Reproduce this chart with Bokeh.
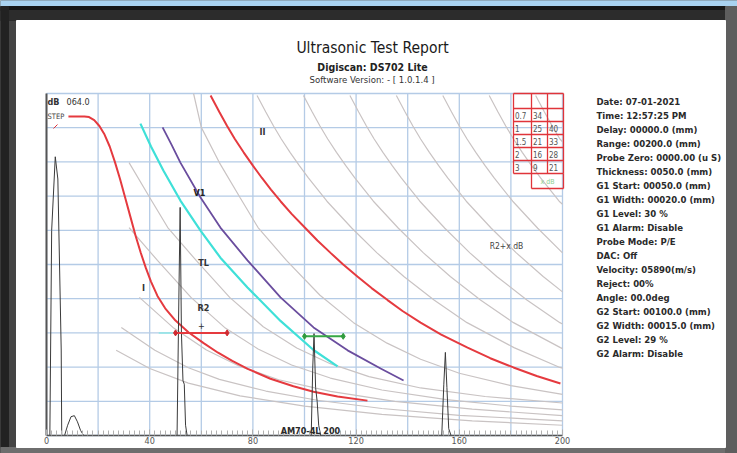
from bokeh.plotting import figure
from bokeh.models import Range1d, LinearAxis, FixedTicker, Label
from bokeh.embed import file_html
from bokeh.resources import INLINE

# ---------------- data (chart units: x = depth 0..200 mm, y = amplitude 0..100 %) ----------------
x_ticks = [0, 40, 80, 120, 160, 200]
x_minor = list(range(0, 201, 2))
grid_x = [0, 20, 40, 60, 80, 100, 120, 140, 160, 180, 200]
grid_y = [0, 10, 20, 30, 40, 50, 60, 70, 80, 90, 100]

curve_I_x = [8.5, 14.7, 16.5, 18.5, 20.5, 22.5, 24.5, 26.5, 28.5, 30.5, 32.5, 34.5, 36.5, 38.5, 40.5,
             43.0, 46.0, 50.0, 55.0, 60.9, 66.5, 72.0, 78.0, 86.8, 95.7, 103.5, 112.8, 124.4]
curve_I_y = [93.3, 93.3, 93.1, 92.2, 90.5, 88.0, 84.5, 80.0, 75.0, 69.5, 64.0, 58.5, 53.5, 49.0, 45.0,
             40.8, 37.2, 33.6, 30.2, 27.0, 24.2, 21.8, 19.5, 16.6, 14.4, 12.8, 11.4, 10.2]

curve_II_x = [63.6, 67.0, 70.0, 73.0, 76.4, 80.0, 83.5, 87.0, 90.7, 95.0, 100.4, 105.0, 110.1, 115.0,
              120.5, 126.0, 132.2, 138.0, 145.0, 153.0, 163.2, 172.0, 181.0, 190.0, 199.2]
curve_II_y = [99.4, 94.6, 90.5, 86.7, 82.8, 78.9, 75.3, 71.9, 68.5, 64.8, 60.6, 57.0, 53.4, 50.0,
              46.5, 43.1, 39.6, 36.4, 33.0, 29.5, 25.7, 22.6, 19.9, 17.4, 15.2]

curve_TL_x = [36.4, 40.5, 45.3, 51.9, 59.7, 67.4, 77.9, 90.7, 103.5, 112.8]
curve_TL_y = [91.2, 84.5, 77.5, 68.7, 59.9, 52.0, 43.3, 33.5, 25.0, 20.2]

curve_V1_x = [45.0, 48.5, 51.9, 59.7, 67.4, 77.9, 90.7, 103.5, 116.7, 129.5, 138.4]
curve_V1_y = [90.1, 85.0, 79.8, 69.6, 60.8, 51.2, 40.4, 31.6, 24.9, 19.6, 16.1]

gray_curves_x = [
    [27, 40, 55, 75, 100, 130, 165, 200],
    [29, 42, 55, 67, 85, 105, 130, 160, 200],
    [36, 49, 62, 75, 90, 110, 135, 165, 200],
    [32, 43, 56, 69, 82, 95, 110, 130, 155, 180, 200],
    [32, 40, 47, 58, 71, 84, 97, 110, 125, 145, 170, 200],
    [57, 60, 67, 75, 82, 93, 106, 119, 132, 145, 160, 180, 200],
    [81.6, 85, 88, 91, 94.4, 98, 101.5, 108.7, 118.4, 128.1, 138.5, 150.2, 163, 181.2, 199, 200],
    [99.6, 103, 106, 109, 112.4, 116, 119.5, 126.7, 136.4, 146.1, 156.5, 168.2, 181, 199.2, 200],
    [117.6, 121, 124, 127, 130.4, 134, 137.5, 144.7, 154.4, 164.1, 174.5, 186.2, 199, 200],
    [135.6, 139, 142, 145, 148.4, 152, 155.5, 162.7, 172.4, 182.1, 192.5, 200],
    [153.6, 157, 160, 163, 166.4, 170, 173.5, 180.7, 190.4, 200],
    [171.6, 175, 178, 181, 184.4, 188, 191.5, 198.7, 200],
    [189.6, 193, 196, 199, 200],
]
gray_curves_y = [
    [24.9, 19.6, 15.3, 11.6, 8.6, 6.2, 4.3, 3.0],
    [31.6, 24.9, 19.8, 16.4, 13.0, 10.3, 7.9, 5.9, 4.3],
    [40.4, 31.6, 25.0, 20.2, 16.3, 12.9, 10.0, 7.7, 5.8],
    [60.8, 51.2, 40.4, 31.6, 25.3, 20.6, 16.8, 13.3, 10.5, 8.6, 7.5],
    [79.8, 69.6, 60.8, 51.2, 40.4, 31.8, 25.6, 21.0, 17.2, 13.9, 11.4, 9.5],
    [100, 90.1, 79.8, 69.6, 60.8, 51.2, 41.0, 33.0, 27.0, 22.3, 18.2, 14.6, 12.0],
    [99.4, 94.6, 90.5, 86.7, 82.8, 78.9, 75.3, 68.5, 60.6, 53.4, 46.5, 39.6, 33.0, 25.7, 19.9, 19.7],
    [99.4, 94.6, 90.5, 86.7, 82.8, 78.9, 75.3, 68.5, 60.6, 53.4, 46.5, 39.6, 33.0, 25.7, 25.4],
    [99.4, 94.6, 90.5, 86.7, 82.8, 78.9, 75.3, 68.5, 60.6, 53.4, 46.5, 39.6, 33.0, 32.6],
    [99.4, 94.6, 90.5, 86.7, 82.8, 78.9, 75.3, 68.5, 60.6, 53.4, 46.5, 42.0],
    [99.4, 94.6, 90.5, 86.7, 82.8, 78.9, 75.3, 68.5, 60.6, 53.4],
    [99.4, 94.6, 90.5, 86.7, 82.8, 78.9, 75.3, 68.5, 67.6],
    [99.4, 94.6, 90.5, 86.7, 85.9],
]

ascan_x = [0, 1.3, 2.0, 3.4, 4.4, 5.7, 5.9, 7.0, 8.2, 9.5, 10.8, 12.0, 13.2, 14.4, 15.5,
           50.6, 51.3, 51.8, 52.3, 52.9, 53.4, 53.9, 54.5,
           102.6, 103.2, 103.7, 104.3, 104.9, 105.5, 106.3,
           153.2, 154.0, 154.6, 155.2, 155.9, 156.8, 200]
ascan_y = [0, 0, 60, 81.5, 75, 25, 0, 0, 3, 5.5, 5.8, 4, 1.5, 0, 0,
           0, 40, 66.7, 30, 16, 15, 3, 0,
           0, 20, 29.8, 14, 10, 3, 0,
           0, 15, 24.3, 14, 2, 0, 0]

g1_start, g1_width, g1_level = 50, 20, 30
g2_start, g2_width, g2_level = 100, 15, 29

table_rows = [["0.7", "34", ""], ["1", "25", "40"], ["1.5", "21", "33"], ["2", "16", "28"], ["3", "9", "21"]]

params = ["Date: 07-01-2021", "Time: 12:57:25 PM", "Delay: 00000.0 (mm)", "Range: 00200.0 (mm)",
          "Probe Zero: 0000.00 (u S)", "Thickness: 0050.0 (mm)", "G1 Start: 00050.0 (mm)",
          "G1 Width: 00020.0 (mm)", "G1 Level: 30 %", "G1 Alarm: Disable", "Probe Mode: P/E",
          "DAC: Off", "Velocity: 05890(m/s)", "Reject: 00%", "Angle: 00.0deg",
          "G2 Start: 00100.0 (mm)", "G2 Width: 00015.0 (mm)", "G2 Level: 29 %", "G2 Alarm: Disable"]

# ---------------- layout (page pixels; canvas sits at page origin) ----------------
CW, CH = 737, 453
PL, PR, PT, PB = 46, 562, 93, 435   # plot area on page
FONT = "Liberation Sans Narrow, DejaVu Sans Condensed, Roboto, sans-serif"

p = figure(width=CW, height=CH, output_backend="svg", toolbar_location=None,
           x_range=Range1d(0, CW), y_range=Range1d(CH, 0),
           x_axis_location=None, y_axis_location=None, min_border=0,
           background_fill_color="#3a3a3a", border_fill_color="#3a3a3a", outline_line_color=None)
p.title.visible = False
p.grid.visible = False

sx = 200.0 / (PR - PL)
sy = 100.0 / (PB - PT)
p.extra_x_ranges = {"cx": Range1d(0 - PL * sx, 200 + (CW - PR) * sx)}
p.extra_y_ranges = {"cy": Range1d(0 - (CH - PB) * sy, 100 + PT * sy)}
C = dict(x_range_name="cx", y_range_name="cy")

# frame / page decoration
p.quad(left=0, right=CW, top=0, bottom=CH, color="#444444")
p.quad(left=0, right=CW, top=0, bottom=6, color="#a9d2f0")
p.quad(left=0, right=CW, top=6, bottom=10, color="#161616")
p.quad(left=0, right=CW, top=10, bottom=20, color="#2c2c2c")
p.quad(left=0, right=8, top=6, bottom=CH, color="#222222")
p.quad(left=0, right=CW, top=447, bottom=CH, color="#6e6e6e")
p.quad(left=725, right=CW, top=6, bottom=CH, color="#5e5e5e")
p.quad(left=16, right=725, top=20, bottom=447, color="white")

# grid
p.segment(x0=grid_x, y0=[0] * len(grid_x), x1=grid_x, y1=[100] * len(grid_x),
          line_color="#b4cbe6", line_width=1.3, **C)
p.segment(x0=[0] * len(grid_y), y0=grid_y, x1=[200] * len(grid_y), y1=grid_y,
          line_color="#b4cbe6", line_width=1.3, **C)

# gray curve family
for gx, gy in zip(gray_curves_x, gray_curves_y):
    p.line(gx, gy, line_color="#c9c3c3", line_width=1.2, **C)

# main curves
p.line(curve_II_x, curve_II_y, line_color="#e53a3f", line_width=2, **C)
p.line(curve_I_x, curve_I_y, line_color="#e53a3f", line_width=2, **C)
p.line(curve_TL_x, curve_TL_y, line_color="#3fe0d8", line_width=2.2, **C)
p.line(curve_V1_x, curve_V1_y, line_color="#6a4d9e", line_width=1.8, **C)

# A-scan
p.line(ascan_x, ascan_y, line_color="#3a3a3a", line_width=1, **C)
p.line([0, 0], [0, 100], line_color="#555555", line_width=2, **C)

# gates
p.line([g1_start - 6.5, g1_start], [g1_level, g1_level], line_color="#8ee6e6", line_width=1.5, **C)
p.line([g1_start, g1_start + g1_width], [g1_level, g1_level], line_color="#e53a3f", line_width=2, **C)
p.scatter([g1_start, g1_start + g1_width], [g1_level, g1_level], marker="diamond", size=6,
          color="#d02a30", **C)
p.line([g2_start, g2_start + g2_width], [g2_level, g2_level], line_color="#35a845", line_width=2, **C)
p.scatter([g2_start, g2_start + g2_width], [g2_level, g2_level], marker="diamond", size=6,
          color="#2e9a3c", **C)

# bottom axis
ax = LinearAxis(x_range_name="cx", y_range_name="cy", fixed_location=0, bounds=(0, 200),
                ticker=FixedTicker(ticks=x_ticks, minor_ticks=x_minor),
                axis_line_color="#555555", axis_line_width=1.5,
                major_tick_in=6, major_tick_out=0, minor_tick_in=5, minor_tick_out=0,
                major_tick_line_color="#b0b0b0", minor_tick_line_color="#b0b0b0",
                major_label_text_font=FONT, major_label_text_font_size="9px",
                major_label_text_color="#555555", major_label_standoff=1)
p.add_layout(ax, "below")

# table (top right of plot)
tcols = [513, 531, 547, 563]
trow_top = 93
trow_h = 13
p.segment(x0=[tcols[0]], y0=[trow_top], x1=[tcols[-1]], y1=[trow_top], line_color="#e0343a", line_width=1.5)
ys_lines = [108 + i * trow_h for i in range(len(table_rows) + 1)]
p.segment(x0=[tcols[0]] * len(ys_lines), y0=ys_lines, x1=[tcols[-1]] * len(ys_lines), y1=ys_lines,
          line_color="#e0343a", line_width=1.3)
p.segment(x0=tcols, y0=[trow_top] * 4, x1=tcols, y1=[ys_lines[-1]] * 4, line_color="#e0343a", line_width=1.3)
p.segment(x0=[tcols[1], tcols[3]], y0=[ys_lines[-1]] * 2, x1=[tcols[1], tcols[3]], y1=[188, 188],
          line_color="#e0343a", line_width=1.3)
p.segment(x0=[tcols[1]], y0=[188], x1=[tcols[3]], y1=[188], line_color="#e0343a", line_width=1.3)

def lab(x, y, text, size, color="#222222", bold=False, align="left", font=FONT):
    p.add_layout(Label(x=x, y=y, text=text, text_font=font, text_font_size=f"{size}px",
                       text_color=color, text_font_style="bold" if bold else "normal",
                       text_align=align, text_baseline="middle"))

for r, row in enumerate(table_rows):
    for c, cell in enumerate(row):
        if cell:
            lab(tcols[c] + 1.5, 108 + r * trow_h + trow_h / 2, cell, 8, color="#555555")
lab(547, 181, "x dB", 7, color="#8fd08f", align="center")

# titles
lab(372, 47, "Ultrasonic Test Report", 15.5, color="#1a1a1a", align="center")
lab(372, 66, "Digiscan: DS702 Lite", 10.5, color="#222222", bold=True, align="center")
lab(373, 79, "Software Version:  - [ 1.0.1.4 ]", 9.5, color="#333333", align="center")

# parameters on the right
for i, t in enumerate(params):
    lab(596, 100.5 + i * 14.0, t, 9.5, color="#2a2a2a", bold=True)

# in-plot labels
lab(47, 101, "dB", 9, color="#333333", bold=True)
lab(66, 101, "064.0", 9, color="#333333")
lab(47, 116, "STEP", 7.5, color="#444444")
p.segment(x0=[53], y0=[128], x1=[57], y1=[124], line_color="#e0343a", line_width=1)
lab(262, 131, "II", 9, color="#333333", bold=True, align="center")
lab(199, 192, "V1", 9, color="#222222", bold=True, align="center")
lab(203, 262, "TL", 9, color="#333333", bold=True, align="center")
lab(143, 287, "I", 9, color="#333333", bold=True, align="center")
lab(203, 307, "R2", 9, color="#333333", bold=True, align="center")
lab(201, 325, "+", 9, color="#333333", align="center")
lab(506, 245, "R2+x dB", 8.5, color="#444444", align="center")
lab(310, 430, "AM70-4L 200", 9, color="#2a2a2a", bold=True, align="center")

open("out.html", "w").write(file_html(p, INLINE))
